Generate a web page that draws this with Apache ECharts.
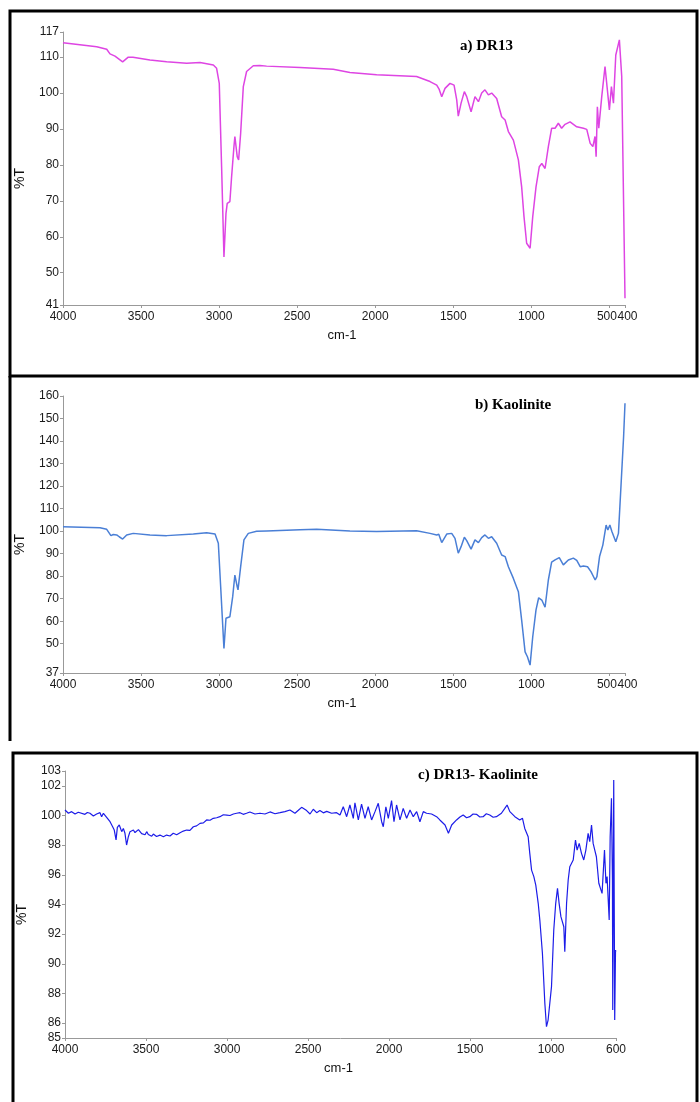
<!DOCTYPE html>
<html>
<head>
<meta charset="utf-8">
<title>FTIR spectra</title>
<script src="https://cdn.jsdelivr.net/npm/echarts@6/dist/echarts.min.js"></script>
<style>
  html, body { margin: 0; padding: 0; background: #fff; }
  #chart { width: 700px; height: 1102px; }
</style>
</head>
<body>
<div id="chart"></div>
<script>
// a) DR13
var waveA = [4000, 3784, 3720, 3699, 3667, 3618, 3582, 3552, 3443, 3336, 3208, 3122, 3037, 3016, 2999,
  2984, 2969, 2956, 2948, 2931, 2920, 2905, 2899, 2884, 2875, 2862, 2845, 2824, 2781, 2739,
  2696, 2482, 2269, 2162, 1991, 1735, 1649, 1606, 1590, 1574, 1553, 1521, 1495, 1478, 1468,
  1450, 1429, 1414, 1403, 1386, 1361, 1339, 1318, 1297, 1275, 1254, 1222, 1190, 1168, 1147,
  1115, 1083, 1062, 1047, 1030, 1008, 991, 970, 949, 933, 912, 891, 870, 848, 827,
  806, 784, 752, 709, 666, 645, 623, 606, 592, 585, 577, 568, 549, 528, 517,
  500, 487, 474, 459, 436, 421, 400];
var transA = [114.0, 112.9, 112.2, 110.9, 110.3, 108.7, 110.0, 110.0, 109.2, 108.7, 108.3, 108.5, 107.8, 106.9, 102.7,
  79.5, 54.4, 66.5, 69.3, 69.8, 76.7, 85.1, 87.9, 82.3, 81.4, 88.8, 101.8, 106.0, 107.6, 107.7,
  107.5, 107.1, 106.6, 105.7, 105.1, 104.6, 103.2, 102.2, 101.0, 99.0, 101.3, 102.7, 102.2, 98.1, 93.6,
  97.2, 100.4, 99.0, 99.0, 94.8, 99.0, 97.6, 100.0, 100.9, 99.5, 100.0, 98.5, 93.4, 92.5, 89.3,
  86.9, 81.4, 73.9, 65.6, 58.2, 56.8, 65.6, 73.9, 79.5, 80.4, 79.0, 85.1, 90.2, 90.2, 91.6,
  90.2, 91.3, 92.0, 90.6, 90.2, 89.9, 86.0, 85.1, 87.9, 82.3, 96.2, 90.2, 99.0, 107.4, 107.4,
  95.3, 101.8, 97.2, 110.6, 114.8, 104.6, 42.9];

// b) Kaolinite
var waveB = [4000, 3763, 3720, 3693, 3678, 3656, 3640, 3618, 3592, 3550, 3443, 3336, 3165, 3080, 3026,
  3005, 2990, 2969, 2956, 2945, 2931, 2913, 2899, 2884, 2879, 2862, 2841, 2813, 2760, 2696,
  2482, 2375, 2162, 1991, 1735, 1649, 1606, 1593, 1574, 1542, 1510, 1489, 1468, 1450, 1429,
  1414, 1403, 1386, 1361, 1339, 1318, 1297, 1275, 1254, 1222, 1190, 1168, 1147, 1115, 1083,
  1062, 1040, 1025, 1008, 991, 970, 953, 933, 912, 891, 870, 848, 821, 795, 763,
  731, 709, 687, 666, 640, 618, 591, 580, 563, 542, 521, 510, 497, 484, 474,
  459, 442, 426, 409, 400];
var transB = [101.9, 101.5, 100.8, 98.0, 98.5, 98.3, 97.5, 96.5, 98.3, 99.0, 98.3, 98.0, 98.7, 99.3, 98.7,
  94.6, 75.3, 47.9, 61.3, 62.0, 62.0, 70.9, 80.5, 75.3, 73.9, 84.2, 96.1, 99.0, 99.9, 100.1,
  100.6, 100.8, 100.1, 99.8, 100.2, 99.0, 98.3, 98.6, 94.9, 98.7, 99.0, 96.8, 90.2, 93.1, 97.3,
  95.8, 96.0, 92.0, 96.1, 94.9, 97.1, 98.3, 96.8, 97.5, 94.6, 89.4, 88.7, 84.2, 79.0, 73.1,
  60.5, 46.4, 44.2, 40.5, 53.1, 65.0, 70.4, 69.4, 66.2, 78.3, 86.2, 87.2, 88.2, 85.0, 87.2,
  88.0, 87.0, 84.2, 84.5, 84.2, 82.0, 78.3, 79.8, 88.7, 93.8, 102.7, 100.5, 102.7, 99.8, 99.0,
  95.3, 99.0, 119.7, 141.9, 156.8];

// c) DR13- Kaolinite
var waveC = [4000, 3979, 3959, 3938, 3918, 3907, 3877, 3862, 3846, 3825, 3805, 3784, 3774, 3763, 3743,
  3722, 3706, 3696, 3685, 3677, 3665, 3650, 3640, 3630, 3620, 3609, 3599, 3588, 3578, 3568,
  3558, 3547, 3537, 3527, 3517, 3506, 3496, 3486, 3476, 3465, 3455, 3435, 3414, 3393, 3373,
  3352, 3342, 3332, 3311, 3290, 3270, 3249, 3229, 3208, 3188, 3167, 3146, 3126, 3105, 3085,
  3064, 3044, 3023, 3002, 2982, 2961, 2941, 2920, 2900, 2880, 2859, 2828, 2797, 2766, 2735,
  2704, 2673, 2643, 2612, 2581, 2560, 2540, 2509, 2488, 2468, 2447, 2427, 2406, 2385, 2355,
  2324, 2303, 2283, 2262, 2242, 2221, 2211, 2190, 2170, 2149, 2129, 2108, 2087, 2067, 2046,
  2036, 2020, 2005, 1985, 1970, 1954, 1933, 1913, 1892, 1871, 1851, 1830, 1810, 1789, 1769,
  1738, 1707, 1687, 1655, 1634, 1614, 1584, 1563, 1543, 1522, 1502, 1482, 1461, 1440, 1420,
  1400, 1379, 1358, 1338, 1307, 1286, 1272, 1255, 1224, 1194, 1177, 1163, 1142, 1132, 1121,
  1107, 1095, 1080, 1070, 1054, 1039, 1029, 1019, 1009, 998, 984, 972, 961, 951, 940,
  930, 922, 916, 905, 895, 885, 864, 850, 840, 827, 813, 799, 786, 772, 762,
  751, 741, 731, 721, 706, 696, 686, 679, 671, 662, 655, 642, 636, 628, 622,
  620, 614, 608, 603, 601];
var transC = [100.37, 100.15, 100.26, 100.10, 100.22, 100.19, 100.08, 100.2, 100.15, 99.97, 100.10, 100.19, 99.92, 100.15, 99.88,
  99.58, 99.24, 99.02, 98.35, 99.2, 99.36, 98.91, 99.13, 98.8, 98.01, 98.57, 98.91, 98.8, 99.02, 98.85,
  98.91, 99.05, 99.02, 98.78, 98.84, 98.7, 98.91, 98.72, 98.8, 98.6, 98.75, 98.58, 98.68, 98.57, 98.68,
  98.62, 98.72, 98.8, 98.7, 98.84, 98.95, 99.02, 99.0, 99.24, 99.3, 99.47, 99.5, 99.7, 99.68, 99.81,
  99.85, 99.92, 100.05, 100.03, 100.0, 100.1, 100.15, 100.19, 100.08, 100.15, 100.24, 100.1, 100.15, 100.1, 100.24,
  100.12, 100.19, 100.26, 100.37, 100.15, 100.35, 100.55, 100.33, 100.1, 100.42, 100.19, 100.33, 100.18, 100.28, 100.15,
  100.19, 100.03, 100.59, 99.92, 100.71, 99.81, 100.86, 99.7, 100.77, 99.81, 100.59, 99.7, 100.26, 100.82, 99.58,
  99.24, 100.59, 99.81, 101.0, 99.58, 100.71, 99.7, 100.48, 99.81, 100.37, 99.92, 100.26, 99.58, 100.26, 100.15,
  100.1, 99.92, 99.7, 99.36, 98.8, 99.36, 99.7, 99.9, 100.03, 99.85, 99.92, 100.1, 100.08, 99.9, 99.92,
  100.12, 100.03, 99.88, 99.92, 100.15, 100.48, 100.71, 100.26, 99.92, 99.7, 99.81, 99.13, 98.57, 97.45, 96.32,
  95.88, 95.31, 94.08, 92.95, 90.7, 87.33, 85.76, 86.21, 86.1, 88.46, 92.28, 94.08, 95.09, 94.08, 93.18,
  93.29, 92.5, 90.82, 94.08, 95.65, 96.55, 97.0, 98.35, 97.67, 98.12, 97.45, 97.0, 97.67, 98.8, 98.24,
  99.36, 98.12, 97.67, 97.22, 95.43, 95.09, 94.75, 96.1, 97.67, 95.43, 95.88, 92.95, 98.57, 101.16, 95.65,
  86.88, 102.39, 86.21, 90.93, 90.82];

var xTicksAB = [4000, 3500, 3000, 2500, 2000, 1500, 1000, 500, 400];
var xLabelsAB = [4000, 3500, 3000, 2500, 2000, 1500, 1000, 500];
var xEndLabel = [400];
var xTicksC = [4000, 3500, 3000, 2500, 2000, 1500, 1000, 600];
var yTicksA = [41, 50, 60, 70, 80, 90, 100, 110, 117];
var yTicksB = [37, 50, 60, 70, 80, 90, 100, 110, 120, 130, 140, 150, 160];
var yTicksC = [85, 86, 88, 90, 92, 94, 96, 98, 100, 102, 103];

var labelFont = 'Liberation Sans, Arial, sans-serif';
var titleStyle = { fontFamily: 'Liberation Serif, Times New Roman, serif', fontWeight: 'bold', fontSize: 15, color: '#000' };

function pairs(xs, ys) {
  var out = [];
  for (var i = 0; i < xs.length; i++) {
    out.push([xs[i], ys[i]]);
  }
  return out;
}

// plain numbers, no thousands separator
function plain(v) {
  return String(v);
}

// the label just before the end label is nudged left so "500400" does not overlap
function plainNudged(v) {
  return v === xLabelsAB[xLabelsAB.length - 1] ? '{n|' + v + '}' : String(v);
}

function makeX(idx, min, ticks, labels, nudge) {
  return {
    type: 'value', gridIndex: idx, position: 'bottom', inverse: true, min: min, max: 4000,
    name: 'cm-1', nameLocation: 'middle', nameGap: 24,
    nameTextStyle: { fontFamily: labelFont, fontSize: 13, color: '#111', padding: [0, 4, 0, 0] },
    axisLine: { lineStyle: { color: '#999', width: 1 } },
    axisTick: { length: 3, customValues: ticks, lineStyle: { color: '#999' } },
    axisLabel: {
      customValues: labels, margin: 6, fontFamily: labelFont, fontSize: 12, color: '#1a1a1a',
      formatter: nudge ? plainNudged : plain, showMinLabel: true, showMaxLabel: true, hideOverlap: false,
      rich: { n: { fontFamily: labelFont, fontSize: 12, color: '#1a1a1a', padding: [0, 5, 0, 0] } }
    },
    splitLine: { show: false }
  };
}

// label-only axis so the end label 400 is not dropped next to 500
function makeEndX(idx) {
  return {
    type: 'value', gridIndex: idx, position: 'bottom', inverse: true, min: 400, max: 4000,
    axisLine: { show: false },
    axisTick: { show: false },
    axisLabel: {
      customValues: xEndLabel, margin: 6, fontFamily: labelFont, fontSize: 12, color: '#1a1a1a',
      formatter: plain, showMinLabel: true, padding: [0, 0, 0, 5]
    },
    splitLine: { show: false }
  };
}

function makeY(idx, min, max, ticks) {
  return {
    type: 'value', gridIndex: idx, min: min, max: max,
    name: '%T', nameLocation: 'middle', nameGap: 36,
    nameTextStyle: { fontFamily: labelFont, fontSize: 14, color: '#111', padding: [0, 20, 0, 0] },
    axisLine: { show: true, lineStyle: { color: '#999', width: 1 } },
    axisTick: { show: true, length: 3, customValues: ticks, lineStyle: { color: '#999' } },
    axisLabel: {
      customValues: ticks, margin: 4, fontFamily: labelFont, fontSize: 12, color: '#1a1a1a',
      formatter: plain, showMinLabel: true, showMaxLabel: true, hideOverlap: false
    },
    splitLine: { show: false }
  };
}

function makeLine(idx, data, color, width) {
  return {
    type: 'line', xAxisIndex: idx, yAxisIndex: idx, data: data,
    showSymbol: false, symbol: 'none', smooth: false,
    lineStyle: { color: color, width: width }
  };
}

var chart = echarts.init(document.getElementById('chart'), null, { renderer: 'canvas' });
chart.setOption({
  backgroundColor: '#fff',
  animation: false,
  title: [
    { text: 'a) DR13', left: 460, top: 39, padding: 0, textStyle: titleStyle },
    { text: 'b) Kaolinite', left: 475, top: 398, padding: 0, textStyle: titleStyle },
    { text: 'c) DR13- Kaolinite', left: 418, top: 768, padding: 0, textStyle: titleStyle }
  ],
  grid: [
    { left: 63, top: 32, width: 562, height: 273 },
    { left: 63, top: 396, width: 562, height: 277 },
    { left: 65, top: 771, width: 551, height: 267 }
  ],
  xAxis: [
    makeX(0, 400, xTicksAB, xLabelsAB, true),
    makeX(1, 400, xTicksAB, xLabelsAB, true),
    makeX(2, 600, xTicksC, xTicksC, false),
    makeEndX(0),
    makeEndX(1)
  ],
  yAxis: [makeY(0, 41, 117, yTicksA), makeY(1, 37, 160, yTicksB), makeY(2, 85, 103, yTicksC)],
  series: [
    makeLine(0, pairs(waveA, transA), '#de45e3', 1.5),
    makeLine(1, pairs(waveB, transB), '#4a7fd6', 1.5),
    makeLine(2, pairs(waveC, transC), '#1c1ce8', 1.2)
  ],
  // panel frames
  graphic: [
    { type: 'rect', shape: { x: 10, y: 11, width: 687, height: 365 }, style: { fill: 'none', stroke: '#000', lineWidth: 3 } },
    { type: 'line', shape: { x1: 10, y1: 376, x2: 10, y2: 741 }, style: { stroke: '#000', lineWidth: 3 } },
    { type: 'rect', shape: { x: 13, y: 753, width: 684, height: 360 }, style: { fill: 'none', stroke: '#000', lineWidth: 3 } }
  ]
});
</script>
</body>
</html>
